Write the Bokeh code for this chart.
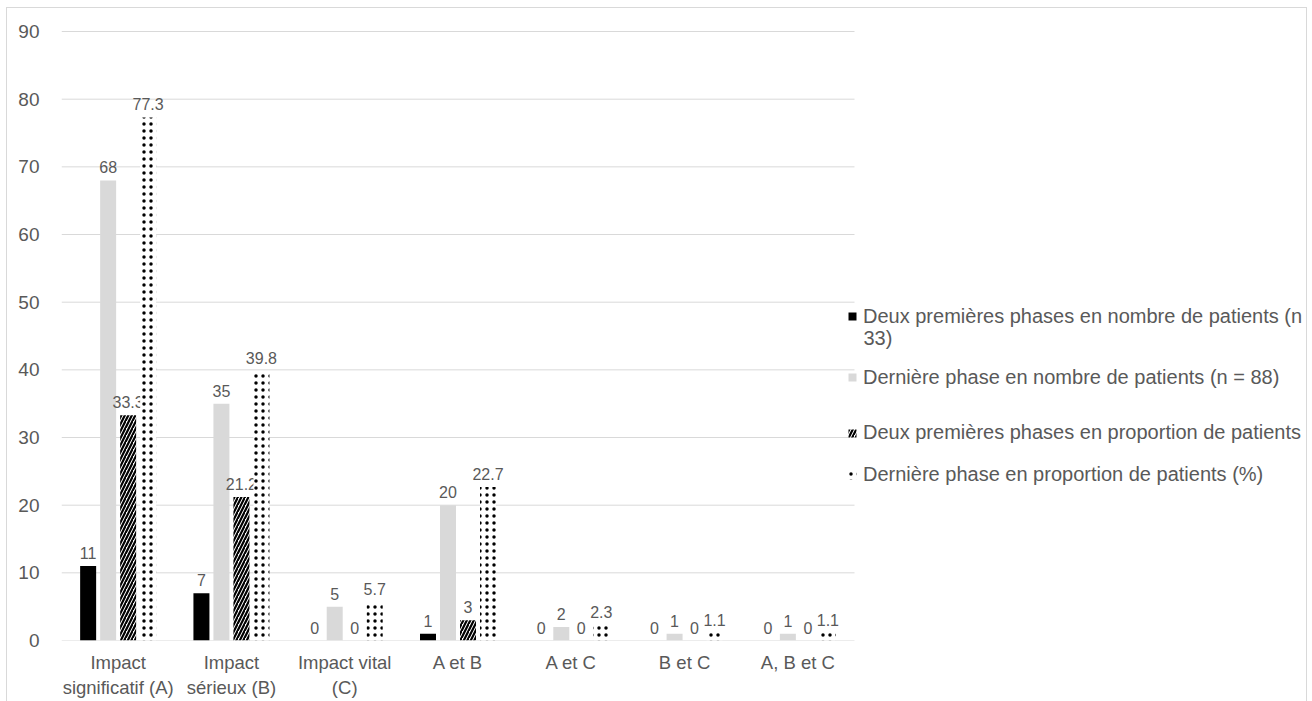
from bokeh.plotting import figure
from bokeh.models import (ColumnDataSource, Range1d, FixedTicker, Legend, LegendItem, Label)
from bokeh.core.properties import value
from bokeh.embed import file_html
from bokeh.resources import INLINE

categories = ["Impact significatif (A)", "Impact sérieux (B)", "Impact vital (C)",
              "A et B", "A et C", "B et C", "A, B et C"]
tick_labels = ["Impact\nsignificatif (A)", "Impact\nsérieux (B)", "Impact vital\n(C)",
               "A et B", "A et C", "B et C", "A, B et C"]
deux_nombre = [11, 7, 0, 1, 0, 0, 0]
derniere_nombre = [68, 35, 5, 20, 2, 1, 1]
deux_prop = [33.3, 21.2, 0, 3, 0, 0, 0]
derniere_prop = [77.3, 39.8, 5.7, 22.7, 2.3, 1.1, 1.1]
y_ticks = [0, 10, 20, 30, 40, 50, 60, 70, 80, 90]
series_names = ["Deux premières phases en nombre de patients (n",
                "Dernière phase en nombre de patients (n = 88)",
                "Deux premières phases en proportion de patients",
                "Dernière phase en proportion de patients (%)"]
legend_cont = "33)"

FONT = "Liberation Sans"
TXT = "#595959"
GRID = "#d9d9d9"

n = len(categories)
unit = 793 / n            # px per category
frame_w = 1245
x_end = frame_w / unit

p = figure(frame_width=frame_w, frame_height=611, min_border_left=54, min_border_top=21,
           min_border_right=0, min_border_bottom=61,
           x_range=Range1d(0, x_end), y_range=Range1d(0, 90.3),
           output_backend="svg", toolbar_location=None)
p.margin = (7, 0, 0, 6)
p.styles = {"border-top": "1px solid #d9d9d9", "border-left": "1px solid #d9d9d9",
            "border-right": "1px solid #d9d9d9"}
p.outline_line_color = None
p.background_fill_color = "white"
p.border_fill_color = "white"

# gridlines restricted to the category area
p.segment(x0=[0] * len(y_ticks), x1=[n] * len(y_ticks), y0=y_ticks, y1=y_ticks,
          line_color=GRID, line_width=1)

centers = [i + 0.5 for i in range(n)]
step = 20 / unit
bw = 16 / unit
offsets = [-1.5 * step, -0.5 * step, 0.5 * step, 1.5 * step]
series = [deux_nombre, derniere_nombre, deux_prop, derniere_prop]
styles = [
    dict(fill_color="black", line_color=None),
    dict(fill_color="#d9d9d9", line_color=None),
    dict(fill_color="white", line_color=None, hatch_pattern="right_diagonal_line",
         hatch_color="black", hatch_scale=7, hatch_weight=2.2),
    dict(fill_color="white", line_color=None, hatch_pattern="dot",
         hatch_color="black", hatch_scale=7, hatch_weight=0.6),
]

renderers = []
for vals, off, st in zip(series, offsets, styles):
    xs = [c + off for c in centers]
    src = ColumnDataSource(dict(x=xs, top=vals, lab=[f"{v:g}" for v in vals]))
    r = p.vbar(x="x", top="top", width=bw, bottom=0, source=src, **st)
    renderers.append(r)
    p.text(x="x", y="top", text="lab", source=src, text_align="center",
           text_baseline="alphabetic", y_offset=-13, text_font=value(FONT),
           text_font_size="16px", text_color=TXT)

# axes
p.yaxis.ticker = FixedTicker(ticks=y_ticks)
p.yaxis.axis_line_color = None
p.yaxis.major_tick_line_color = None
p.yaxis.minor_tick_line_color = None
p.yaxis.major_label_standoff = 16
p.yaxis.major_label_text_font = FONT
p.yaxis.major_label_text_font_size = "19px"
p.yaxis.major_label_text_color = TXT

p.xaxis.ticker = FixedTicker(ticks=centers)
p.xaxis.major_label_overrides = {c: t for c, t in zip(centers, tick_labels)}
p.xaxis.axis_line_color = None
p.xaxis.major_tick_line_color = None
p.xaxis.minor_tick_line_color = None
p.xaxis.major_label_standoff = 5
p.xaxis.major_label_text_font = FONT
p.xaxis.major_label_text_font_size = "18.5px"
p.xaxis.major_label_text_color = TXT
p.xaxis.major_label_text_line_height = 1.2

p.xgrid.grid_line_color = None
p.ygrid.grid_line_color = None

# legends
leg_pos = [(786, 312.5), (786, 251.5), (786, 196), (786, 154)]
for name, r, loc in zip(series_names, renderers, leg_pos):
    lg = Legend(items=[LegendItem(label=name, renderers=[r])], location=loc,
                glyph_width=10, glyph_height=10, label_standoff=6, padding=0, margin=0,
                spacing=0, border_line_color=None, background_fill_alpha=0,
                label_text_font=FONT, label_text_font_size="20px",
                label_text_color=TXT, label_height=22)
    p.add_layout(lg, "center")

p.add_layout(Label(x=802, y=303, x_units="screen", y_units="screen", text=legend_cont,
                   text_font=FONT, text_font_size="20px", text_color=TXT,
                   text_baseline="alphabetic"))

open("out.html", "w").write(file_html(p, INLINE))
